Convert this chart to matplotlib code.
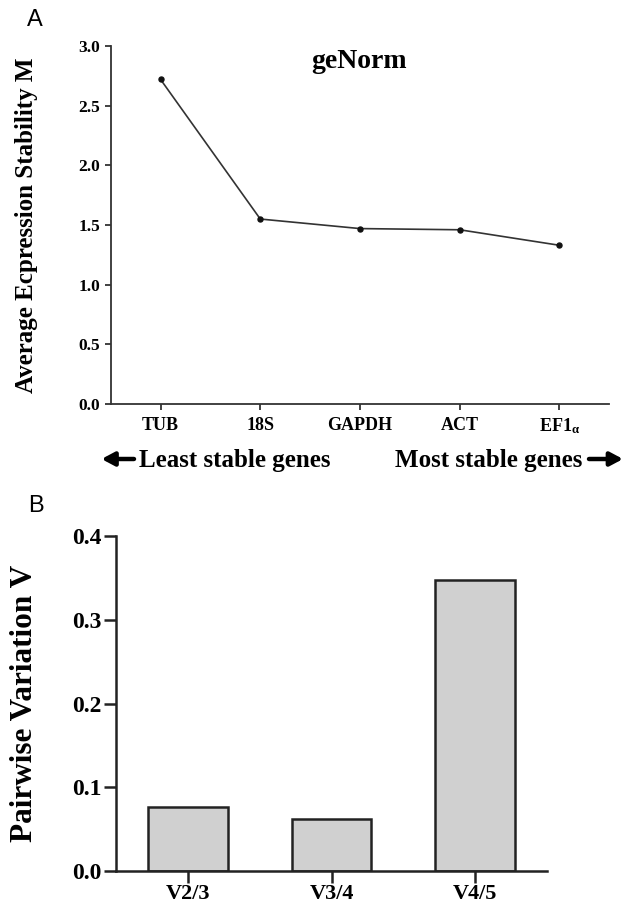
import matplotlib
matplotlib.use("Agg")
import matplotlib.pyplot as plt
import numpy as np

plt.rcParams['font.family'] = ['Liberation Serif', 'DejaVu Serif']
plt.rcParams['mathtext.fontset'] = 'custom'
plt.rcParams['mathtext.rm'] = 'Liberation Serif'
plt.rcParams['mathtext.it'] = 'Liberation Serif'

# ---- data ----
genes = ['TUB', '18S', 'GAPDH', 'ACT', 'EF1$\\mathregular{_{α}}$']
stability_m = [2.72, 1.55, 1.47, 1.46, 1.33]
m_ticks = [0.0, 0.5, 1.0, 1.5, 2.0, 2.5, 3.0]

pairs = ['V2/3', 'V3/4', 'V4/5']
pairwise_v = [0.076, 0.062, 0.347]
v_ticks = [0.0, 0.1, 0.2, 0.3, 0.4]

W, H = 632, 905
fig = plt.figure(figsize=(W / 100, H / 100), dpi=100)

# ---- panel A ----
axA = fig.add_axes([110.7 / W, 1 - 404 / H, (609.3 - 110.7) / W, (404 - 46) / H])
xa = np.arange(len(genes))
axA.plot(xa, stability_m, color='#333333', lw=1.2, marker='o', ms=3.6,
         mfc='#111111', mec='#111111', zorder=3)
axA.set_xlim(-0.5, len(genes) - 0.5)
axA.set_ylim(0, 3.0)
axA.set_yticks(m_ticks)
axA.set_yticklabels([f'{t:.1f}' for t in m_ticks], fontsize=12.5, fontweight='bold')
axA.set_xticks(xa)
axA.set_xticklabels(genes, fontsize=13, fontweight='bold')
for s in ['top', 'right']:
    axA.spines[s].set_visible(False)
for s in ['left', 'bottom']:
    axA.spines[s].set_linewidth(1.3)
    axA.spines[s].set_color('#333333')
axA.tick_params(axis='y', direction='out', length=4, width=1.3, color='#333333', pad=3.5)
axA.tick_params(axis='x', direction='out', length=4, width=1.3, color='#333333', pad=5)
axA.set_ylabel('Average Ecpression Stability M', fontsize=18, fontweight='bold')
axA.yaxis.set_label_coords(-0.146, 0.5)
fig.text(359.5 / W, 1 - 62 / H, 'geNorm', ha='center', va='center',
         fontsize=20, fontweight='bold')

fig.text(35 / W, 1 - 20 / H, 'A', ha='center', va='center', fontsize=17,
         family='Liberation Sans')

# direction annotations
fig.text(139 / W, 1 - 460 / H, 'Least stable genes', ha='left', va='center',
         fontsize=18, fontweight='bold')
fig.text(582.5 / W, 1 - 460 / H, 'Most stable genes', ha='right', va='center',
         fontsize=18, fontweight='bold')
arrow_kw = dict(arrowstyle='-|>,head_length=0.75,head_width=0.4', color='black', lw=3.2,
                shrinkA=0, shrinkB=0)
axA.annotate('', xy=(101.5 / W, 1 - 459 / H), xytext=(134 / W, 1 - 459 / H),
             xycoords='figure fraction', textcoords='figure fraction',
             arrowprops=arrow_kw, annotation_clip=False)
axA.annotate('', xy=(623 / W, 1 - 459 / H), xytext=(589 / W, 1 - 459 / H),
             xycoords='figure fraction', textcoords='figure fraction',
             arrowprops=arrow_kw, annotation_clip=False)

# ---- panel B ----
axB = fig.add_axes([116 / W, 1 - 871 / H, (547 - 116) / W, (871 - 536) / H])
xb = np.arange(len(pairs))
axB.bar(xb, pairwise_v, width=0.553, color='#d0d0d0', edgecolor='#222222', linewidth=1.8,
        zorder=2)
axB.set_xlim(-0.5, len(pairs) - 0.5)
axB.set_ylim(0, 0.4)
axB.set_yticks(v_ticks)
axB.set_yticklabels([f'{t:.1f}' for t in v_ticks], fontsize=17, fontweight='bold')
axB.set_xticks(xb)
axB.set_xticklabels(pairs, fontsize=16, fontweight='bold')
for s in ['top', 'right']:
    axB.spines[s].set_visible(False)
for s in ['left', 'bottom']:
    axB.spines[s].set_linewidth(1.8)
    axB.spines[s].set_color('#222222')
axB.tick_params(axis='both', direction='out', length=8.5, width=1.8, color='#222222')
axB.tick_params(axis='y', pad=2)
axB.tick_params(axis='x', pad=1)
axB.set_ylabel('Pairwise Variation V', fontsize=22.5, fontweight='bold')
axB.yaxis.set_label_coords(-0.178, 0.5)

fig.text(36 / W, 1 - 506 / H, 'B', ha='center', va='center', fontsize=17,
         family='Liberation Sans')

fig.savefig('out.png', dpi=100, facecolor='white')
